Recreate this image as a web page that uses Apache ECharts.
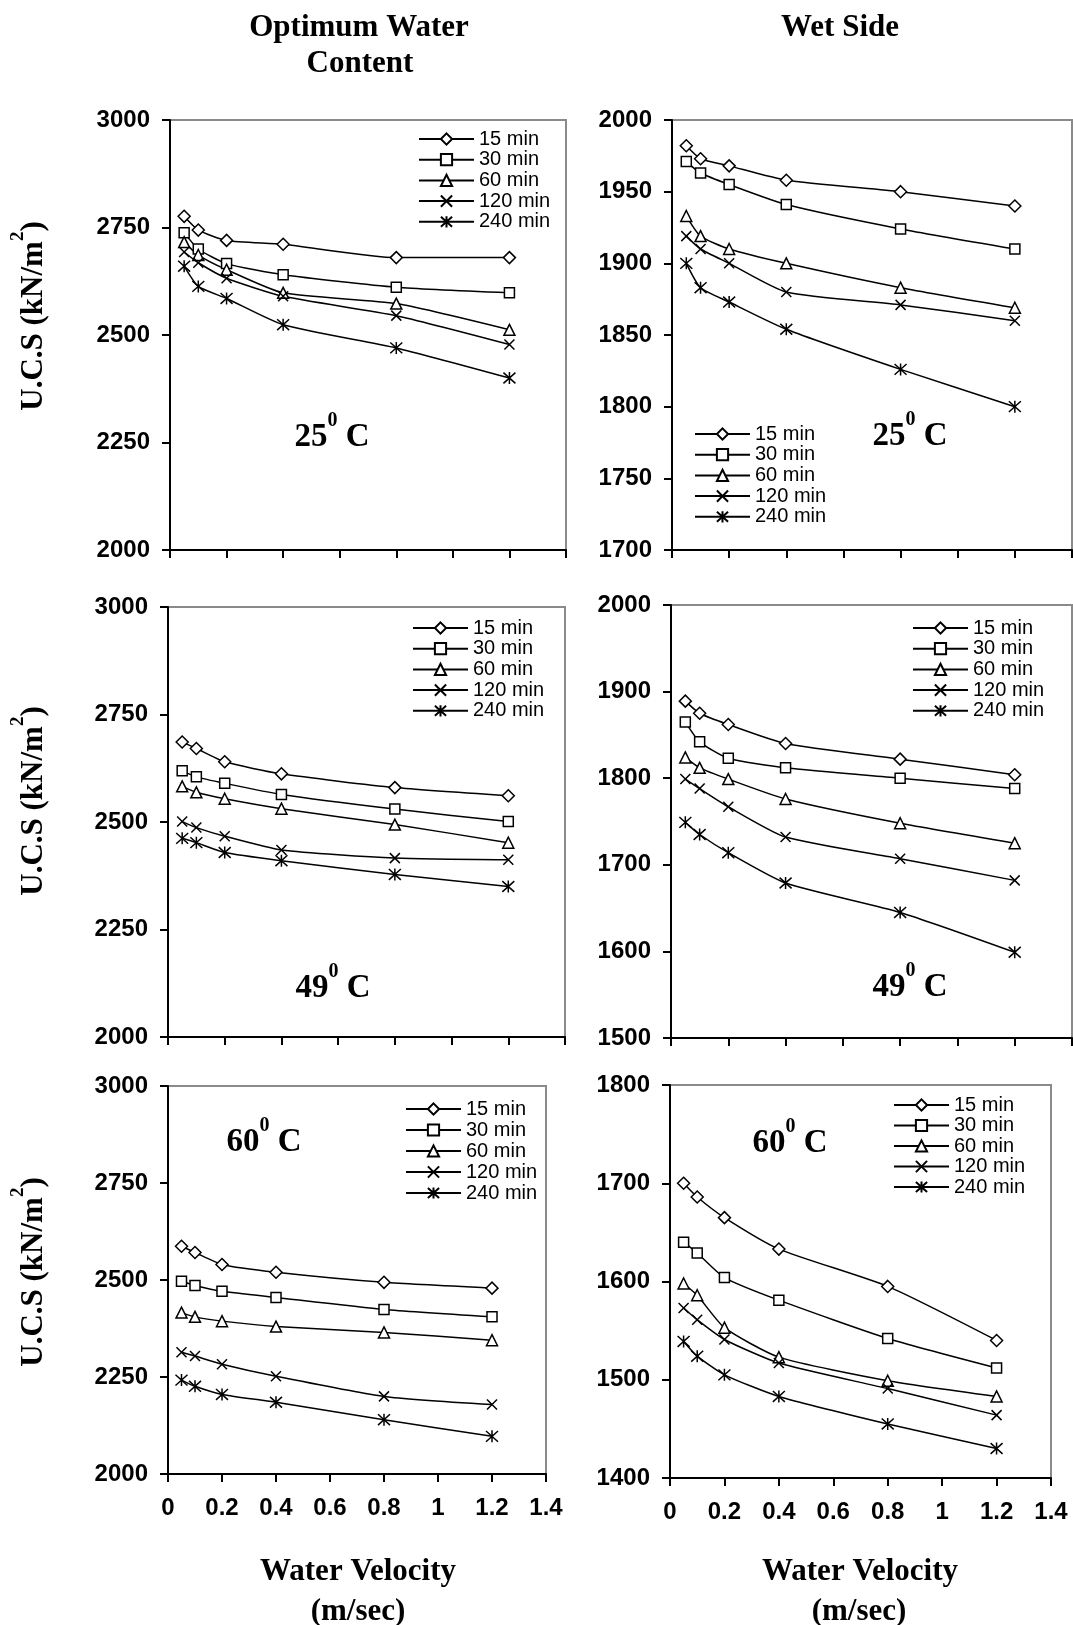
<!DOCTYPE html>
<html>
<head>
<meta charset="utf-8">
<title>U.C.S vs Water Velocity</title>
<script src="https://cdn.jsdelivr.net/npm/echarts@6/dist/echarts.min.js"></script>
<style>
  html, body { margin: 0; padding: 0; background: #fff; }
  #main { width: 1073px; height: 1625px; }
</style>
</head>
<body>
<div id="main"></div>
<script>
// water velocity (m/sec), same points on every panel
var velocity = [0.05, 0.1, 0.2, 0.4, 0.8, 1.2];
// soaking time, one series each
var durations = ['15 min', '30 min', '60 min', '120 min', '240 min'];

// x ticks (shared)
var xTicks = [0, 0.2, 0.4, 0.6, 0.8, 1, 1.2, 1.4];

// y ticks for each panel
var yTicksOptimum = [2000, 2250, 2500, 2750, 3000];
var yTicksWet25 = [1700, 1750, 1800, 1850, 1900, 1950, 2000];
var yTicksWet49 = [1500, 1600, 1700, 1800, 1900, 2000];
var yTicksWet60 = [1400, 1500, 1600, 1700, 1800];

// U.C.S (kN/m2), rows = 15, 30, 60, 120, 240 min
var optimum25 = [
  [2776, 2744, 2720, 2711, 2680, 2680],
  [2738, 2700, 2666, 2640, 2611, 2598],
  [2716, 2686, 2652, 2598, 2573, 2512],
  [2693, 2668, 2632, 2590, 2545, 2478],
  [2660, 2613, 2585, 2524, 2470, 2400]
];
var wet25 = [
  [1982, 1973, 1968, 1958, 1950, 1940],
  [1971, 1963, 1955, 1941, 1924, 1910],
  [1933, 1919, 1910, 1900, 1883, 1869],
  [1919, 1910, 1900, 1880, 1871, 1860],
  [1900, 1883, 1873, 1854, 1826, 1800]
];
var optimum49 = [
  [2686, 2671, 2640, 2612, 2580, 2561],
  [2619, 2605, 2590, 2564, 2530, 2501],
  [2583, 2569, 2554, 2531, 2494, 2452],
  [2501, 2487, 2467, 2435, 2416, 2412],
  [2462, 2452, 2429, 2410, 2378, 2350]
];
var wet49 = [
  [1889, 1875, 1862, 1840, 1822, 1804],
  [1865, 1842, 1823, 1812, 1800, 1788],
  [1824, 1812, 1799, 1776, 1748, 1725],
  [1799, 1788, 1767, 1732, 1707, 1682],
  [1749, 1735, 1714, 1679, 1645, 1599]
];
var optimum60 = [
  [2587, 2571, 2540, 2520, 2494, 2479],
  [2497, 2486, 2471, 2455, 2424, 2405],
  [2416, 2405, 2394, 2380, 2365, 2345],
  [2314, 2304, 2283, 2252, 2200, 2179],
  [2242, 2226, 2205, 2185, 2140, 2097]
];
var wet60 = [
  [1700, 1686, 1665, 1633, 1595, 1540],
  [1640, 1629, 1604, 1581, 1542, 1512],
  [1598, 1586, 1553, 1523, 1499, 1483],
  [1573, 1561, 1541, 1517, 1491, 1464],
  [1539, 1524, 1505, 1483, 1455, 1430]
];

var temps = ['25', '25', '49', '49', '60', '60'];

// panel order: row by row, optimum left, wet side right
var panelData = [optimum25, wet25, optimum49, wet49, optimum60, wet60];
var panelTicks = [yTicksOptimum, yTicksWet25, yTicksOptimum, yTicksWet49, yTicksOptimum, yTicksWet60];

// layout (px) - top and middle rows are wider than the bottom row
var layout = [
  {left: 170, top: 120, width: 396, height: 430},
  {left: 672, top: 120, width: 400, height: 430},
  {left: 168, top: 607, width: 397, height: 430},
  {left: 671, top: 605, width: 401, height: 433},
  {left: 168, top: 1086, width: 378, height: 388},
  {left: 670, top: 1085, width: 381, height: 393}
];
var legendPos = [[418, 129, 0.7], [694, 424, 0.7], [412, 618, 0.7], [912, 618, 0.7], [405, 1099, 1], [893, 1095, 0.5]];
var tempPos = [[332, 432], [910, 431], [333, 983], [910, 982], [264, 1137], [790, 1138]];
var yNamePos = [316, 801, 1272];

var SERIF = '"Liberation Serif", "Times New Roman", serif';
var SANS = '"Liberation Sans", Arial, sans-serif';

// markers: diamond, square, triangle, x, asterisk
var symbols = [
  'diamond',
  'rect',
  'triangle',
  'path://M0,0L10,10M10,0L0,10',
  'path://M0.5,0.5L9.5,9.5M9.5,0.5L0.5,9.5M5,0L5,10'
];
var symbolSizes = [12, 10, 11, 10, 12];

// rich styles for text with a superscript
function supRich(size, supSize) {
  return {
    a: {fontSize: size, fontWeight: 'bold', fontFamily: SERIF, color: '#000',
        lineHeight: size + 10, verticalAlign: 'bottom'},
    s: {fontSize: supSize, fontWeight: 'bold', fontFamily: SERIF, color: '#000',
        lineHeight: supSize, verticalAlign: 'top'}
  };
}

var grids = [], xAxes = [], yAxes = [], series = [], legends = [], graphics = [];

panelData.forEach(function (rows, p) {
  var ticks = panelTicks[p];
  var bottomRow = p >= 4;
  grids.push({
    left: layout[p].left, top: layout[p].top,
    width: layout[p].width, height: layout[p].height,
    show: true, borderColor: '#8a8a8a', borderWidth: 2,
    backgroundColor: 'transparent'
  });
  xAxes.push({
    type: 'value', gridIndex: p,
    min: xTicks[0], max: xTicks[xTicks.length - 1], interval: xTicks[1] - xTicks[0],
    axisLine: {onZero: false, lineStyle: {color: '#000', width: 2}},
    axisTick: {show: true, length: 8, lineStyle: {color: '#000', width: 2}},
    axisLabel: {
      show: bottomRow, margin: 22, color: '#000',
      fontSize: 24, fontWeight: 'bold', fontFamily: SANS
    },
    splitLine: {show: false}
  });
  yAxes.push({
    type: 'value', gridIndex: p,
    min: ticks[0], max: ticks[ticks.length - 1], interval: ticks[1] - ticks[0],
    axisLine: {show: true, onZero: false, lineStyle: {color: '#000', width: 2}},
    axisTick: {show: true, length: 8, lineStyle: {color: '#000', width: 2}},
    axisLabel: {
      margin: 20, color: '#000', fontSize: 24, fontWeight: 'bold', fontFamily: SANS,
      formatter: function (v) { return String(v); }
    },
    splitLine: {show: false}
  });

  rows.forEach(function (vals, s) {
    series.push({
      name: durations[s],
      type: 'line',
      xAxisIndex: p, yAxisIndex: p,
      data: velocity.map(function (v, i) { return [v, vals[i]]; }),
      smooth: 0.2,
      symbol: symbols[s],
      symbolSize: symbolSizes[s],
      showAllSymbol: true,
      lineStyle: {color: '#000', width: 1.5},
      itemStyle: {color: '#fff', borderColor: '#000', borderWidth: 1.5},
      emphasis: {disabled: true},
      z: 3
    });
  });

  legends.push({
    orient: 'vertical',
    left: legendPos[p][0], top: legendPos[p][1],
    padding: 0, itemGap: legendPos[p][2],
    itemWidth: 55, itemHeight: 14,
    selectedMode: false,
    data: durations,
    textStyle: {color: '#000', fontSize: 20, lineHeight: 20, fontFamily: SANS}
  });

  // temperature tag
  graphics.push({
    type: 'text', x: tempPos[p][0], y: tempPos[p][1],
    style: {
      text: '{a|' + temps[p] + '}{s|0}{a| C}',
      align: 'center', verticalAlign: 'middle',
      rich: supRich(33, 20)
    }
  });
});

// column titles and x axis names
function serifText(x, y, text) {
  return {
    type: 'text', x: x, y: y,
    style: {
      text: text, align: 'center', verticalAlign: 'middle',
      font: 'bold 31px ' + SERIF, fill: '#000'
    }
  };
}
graphics.push(serifText(359, 28, 'Optimum Water'));
graphics.push(serifText(360, 64, 'Content'));
graphics.push(serifText(840, 28, 'Wet Side'));
graphics.push(serifText(358, 1572, 'Water Velocity'));
graphics.push(serifText(358, 1612, '(m/sec)'));
graphics.push(serifText(860, 1572, 'Water Velocity'));
graphics.push(serifText(859, 1612, '(m/sec)'));

// y axis names, rotated
yNamePos.forEach(function (y) {
  graphics.push({
    type: 'text', x: 29, y: y, rotation: Math.PI / 2,
    style: {
      text: '{a|U.C.S (kN/m}{s|2}{a|)}',
      align: 'center', verticalAlign: 'middle',
      rich: supRich(31, 19)
    }
  });
});

var myChart = echarts.init(document.getElementById('main'), null, {renderer: 'canvas'});
myChart.setOption({
  backgroundColor: '#fff',
  animation: false,
  grid: grids,
  xAxis: xAxes,
  yAxis: yAxes,
  legend: legends,
  series: series,
  graphic: graphics
});
</script>
</body>
</html>
